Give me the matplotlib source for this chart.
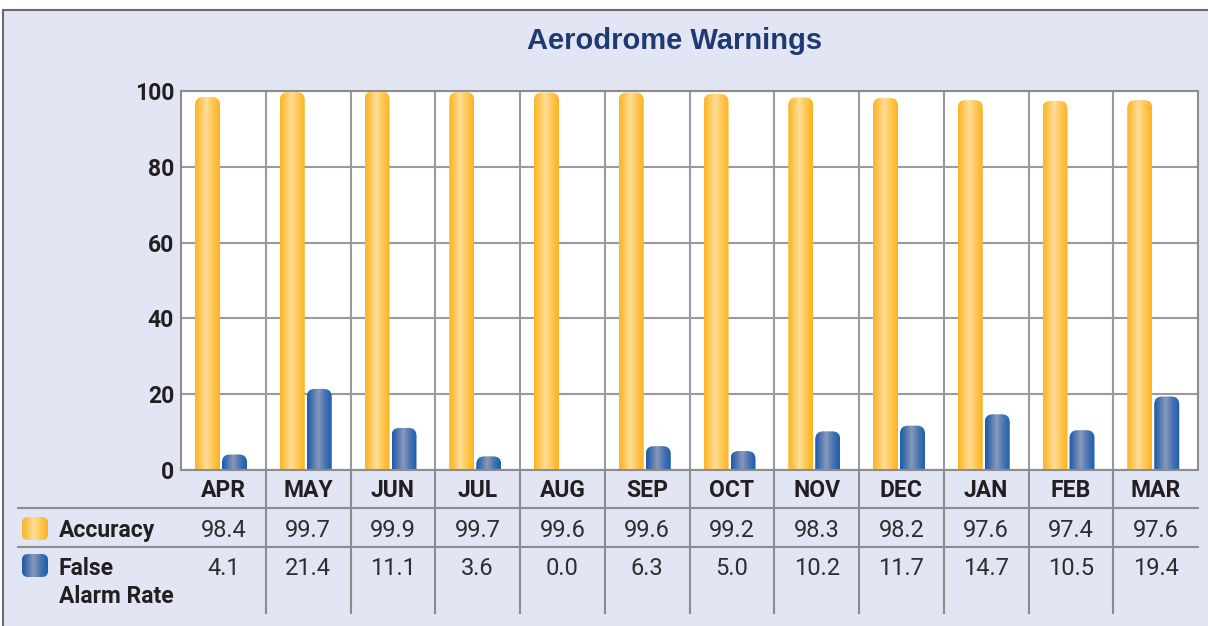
import numpy as np
import matplotlib
matplotlib.use('Agg')
import matplotlib.pyplot as plt
from matplotlib.patches import Rectangle, FancyBboxPatch
from matplotlib.colors import LinearSegmentedColormap

months = ['APR', 'MAY', 'JUN', 'JUL', 'AUG', 'SEP', 'OCT', 'NOV', 'DEC', 'JAN', 'FEB', 'MAR']
accuracy = [98.4, 99.7, 99.9, 99.7, 99.6, 99.6, 99.2, 98.3, 98.2, 97.6, 97.4, 97.6]
false_alarm = [4.1, 21.4, 11.1, 3.6, 0.0, 6.3, 5.0, 10.2, 11.7, 14.7, 10.5, 19.4]
yticks = [0, 20, 40, 60, 80, 100]

W, H = 1208, 626
X0, X1 = 181, 1198          # plot area, pixels from left
YTOP, YBOT = 91, 470        # plot area, pixels from top
COLW = (X1 - X0) / len(months)

bold_font = dict(family=['Roboto', 'DejaVu Sans'], fontweight='bold')
value_font = dict(family=['Roboto', 'DejaVu Sans'], fontweight='normal')
txt_col = '#231f20'
val_col = '#2e2e2e'
line_col = '#8c8c8c'

gold = LinearSegmentedColormap.from_list('gold', [(0, '#fbb42a'), (0.2, '#fdc54e'), (0.45, '#ffdd9a'),
                                                  (0.72, '#fec852'), (1, '#fcb224')])
blue = LinearSegmentedColormap.from_list('blue', [(0, '#1c5aa8'), (0.2, '#4a73b0'), (0.45, '#8a99ba'),
                                                  (0.72, '#4a74b2'), (1, '#1d5dad')])
grad = np.linspace(0, 1, 64).reshape(1, -1)

fig = plt.figure(figsize=(W / 100, H / 100), dpi=100)
fig.patch.set_facecolor('white')

# background layer in pixel coordinates: panel, title and the data table
bg = fig.add_axes([0, 0, 1, 1])
bg.set_xlim(0, W)
bg.set_ylim(H, 0)
bg.axis('off')
bg.add_patch(Rectangle((3, 10), W, H, facecolor='#e1e5f4', edgecolor='#6b6b6b', lw=1.5, zorder=0))
bg.text(675, 41, 'Aerodrome Warnings', ha='center', va='center', fontsize=21,
        fontweight='bold', color='#1f3a6e', family=['Liberation Sans', 'DejaVu Sans'])

for yy in (508, 547):
    bg.plot([18, X1], [yy, yy], color=line_col, lw=1.5)
for i in range(1, len(months)):
    bg.plot([X0 + i * COLW] * 2, [YBOT, 613], color=line_col, lw=1.5)

for i, m in enumerate(months):
    cx = X0 + (i + 0.5) * COLW
    bg.text(cx, 497, m, ha='center', va='baseline', fontsize=16.5, color=txt_col, **bold_font)
    bg.text(cx, 537, f'{accuracy[i]:.1f}', ha='center', va='baseline', fontsize=17,
            color=val_col, **value_font)
    bg.text(cx, 575, f'{false_alarm[i]:.1f}', ha='center', va='baseline', fontsize=17,
            color=val_col, **value_font)

bg.text(59, 537, 'Accuracy', ha='left', va='baseline', fontsize=16.5, color=txt_col, **bold_font)
bg.text(59, 575, 'False', ha='left', va='baseline', fontsize=16.5, color=txt_col, **bold_font)
bg.text(59, 603, 'Alarm Rate', ha='left', va='baseline', fontsize=16.5, color=txt_col, **bold_font)

# legend swatches
for (y0, cmap) in ((517, gold), (554, blue)):
    sw = FancyBboxPatch((22, y0), 26, 23, boxstyle='round,pad=0,rounding_size=6',
                        facecolor='none', edgecolor='none', zorder=3)
    bg.add_patch(sw)
    im = bg.imshow(grad, extent=[22, 48, y0 + 23, y0], cmap=cmap, aspect='auto', zorder=3)
    im.set_clip_path(sw)
bg.set_xlim(0, W)
bg.set_ylim(H, 0)

# chart
ax = fig.add_axes([X0 / W, (H - YBOT) / H, (X1 - X0) / W, (YBOT - YTOP) / H])
ax.set_facecolor('white')
ax.set_xlim(0, len(months))
ax.set_ylim(0, 100)
ax.set_yticks(yticks)
ax.set_yticklabels([str(t) for t in yticks], fontsize=16.5, color=txt_col, **bold_font)
ax.tick_params(axis='y', length=0, pad=5)
ax.set_xticks(range(1, len(months)))
ax.set_xticklabels([])
ax.tick_params(axis='x', length=0)
ax.grid(True, color='#9a9a9a', lw=1.5)
ax.set_axisbelow(True)
for s in ax.spines.values():
    s.set_color(line_col)
    s.set_linewidth(1.5)

px_x = COLW                      # pixels per x unit
px_y = (YBOT - YTOP) / 100.0     # pixels per y unit
rx, ry = 8 / px_x, 8 / px_y
bw = 25 / px_x


def draw_bar(x, h, cmap):
    if h <= 0:
        return
    p = FancyBboxPatch((x, -ry), bw, h + ry, boxstyle=f'round,pad=0,rounding_size={rx}',
                       mutation_aspect=ry / rx, facecolor='none', edgecolor='none')
    ax.add_patch(p)
    im = ax.imshow(grad, extent=[x, x + bw, 0, h], cmap=cmap, aspect='auto', zorder=2)
    im.set_clip_path(p)


for i in range(len(months)):
    draw_bar(i + 14 / px_x, accuracy[i], gold)
    draw_bar(i + 41 / px_x, false_alarm[i], blue)

ax.set_xlim(0, len(months))
ax.set_ylim(0, 100)
ax.set_aspect('auto')

fig.savefig('out.png', dpi=100)
